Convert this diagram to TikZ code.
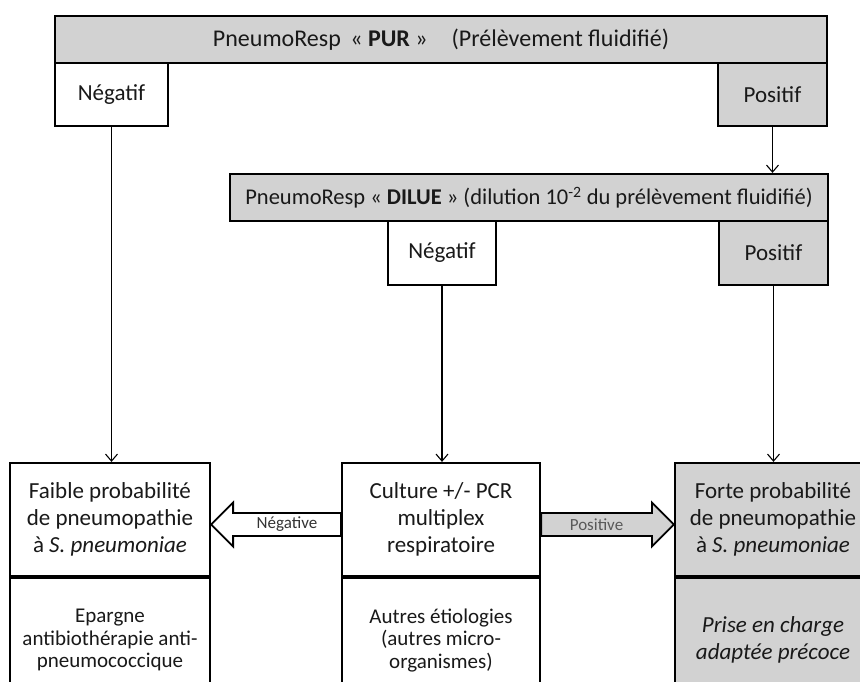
\documentclass[tikz,border=0pt]{standalone}
\usepackage{fontspec}
\setmainfont{Carlito}
\usetikzlibrary{calc, arrows.meta}
\definecolor{boxgray}{RGB}{210,210,210}
\tikzset{
    box/.style={draw, line width=2.2pt, inner sep=0pt, align=center, text=black!90},
    graybox/.style={box, fill=boxgray},
    whitebox/.style={box, fill=white},
    thinarrow/.style={-{Straight Barb[length=7pt,width=12pt]}, line width=1.1pt},
    fatarrow/.style={line width=1.8pt, line join=miter},
}

\begin{document}
\begin{tikzpicture}[x=1pt,y=-1pt]
\def\bigtxt{\fontsize{23}{27}\selectfont}
\def\toptxt{\fontsize{24}{28}\selectfont}
\def\bartxt{\fontsize{22.5}{26}\selectfont}
\def\lowtxt{\fontsize{21}{22.5}\selectfont}
\def\tagtxt{\fontsize{17}{19}\selectfont}
\def\headlen{22}

\useasboundingbox (0,0) rectangle (860,682);
\clip (0,0) rectangle (860,682);

\node[graybox, minimum width=772pt, minimum height=47pt, font=\toptxt] (pur) at (441,39.5)
  {PneumoResp \,« \textbf{PUR} »\quad (Prélèvement fluidifié)};
\node[whitebox, minimum width=113pt, minimum height=63pt, font=\bigtxt] (neg1) at (111.5,94.5) {Négatif};
\node[graybox, minimum width=109pt, minimum height=63pt, font=\bigtxt] (pos1) at (772.5,94.5) {Positif};

\node[graybox, minimum width=598pt, minimum height=47pt, font=\bartxt] (dil) at (529,197.5)
  {PneumoResp « \textbf{DILUE} » (dilution 10\textsuperscript{-2} du prélèvement fluidifié)};
\node[whitebox, minimum width=108pt, minimum height=64pt, font=\bigtxt] (neg2) at (442,253) {Négatif};
\node[graybox, minimum width=109pt, minimum height=64pt, font=\bigtxt] (pos2) at (773.5,253) {Positif};

\node[whitebox, minimum width=200pt, minimum height=113pt, font=\bigtxt] (faible) at (110,519.5)
  {Faible probabilité\\de pneumopathie\\à \textit{S. pneumoniae}};
\node[whitebox, minimum width=200pt, minimum height=124pt, font=\lowtxt, anchor=north] (epargne) at (faible.south)
  {Epargne\\antibiothérapie anti-\\pneumococcique};

\node[whitebox, minimum width=198pt, minimum height=113pt, font=\bigtxt] (culture) at (441,519.5)
  {Culture +/- PCR\\multiplex\\respiratoire};
\node[whitebox, minimum width=198pt, minimum height=124pt, font=\lowtxt, anchor=north] (etio) at (culture.south)
  {Autres étiologies\\(autres micro-\\organismes)};

\node[graybox, minimum width=196pt, minimum height=113pt, font=\bigtxt] (forte) at (773,519.5)
  {Forte probabilité\\de pneumopathie\\à \textit{S. pneumoniae}};
\node[graybox, minimum width=196pt, minimum height=124pt, font=\bigtxt\itshape, anchor=north] (prise) at (forte.south)
  {Prise en charge\\adaptée précoce};

\draw[thinarrow] (neg1.south) -- (neg1.south |- faible.north);
\draw[thinarrow] (pos1.south) -- (pos1.south |- dil.north);
\draw[thinarrow] (neg2.south) -- (neg2.south |- culture.north);
\draw[thinarrow] (pos2.south) -- (pos2.south |- forte.north);

\coordinate (negtail) at ($(culture.west)+(0,5)$);
\coordinate (negtip) at ($(faible.east)+(0,5)$);
\draw[fatarrow, fill=white] ($(negtail)+(0,-11.5)$) -- ($(negtip)+(\headlen,-11.5)$) -- ($(negtip)+(\headlen,-22)$)
  -- (negtip) -- ($(negtip)+(\headlen,22)$) -- ($(negtip)+(\headlen,11.5)$) -- ($(negtail)+(0,11.5)$) -- cycle;
\node[font=\tagtxt, text=black!80] (lblneg) at ($(negtail)!0.5!([xshift=\headlen pt]negtip)$) {Négative};

\coordinate (postail) at ($(culture.east)+(0,5)$);
\coordinate (postip) at ($(forte.west)+(0,5)$);
\draw[fatarrow, fill=boxgray] ($(postail)+(0,-11.5)$) -- ($(postip)+(-\headlen,-11.5)$) -- ($(postip)+(-\headlen,-22)$)
  -- (postip) -- ($(postip)+(-\headlen,22)$) -- ($(postip)+(-\headlen,11.5)$) -- ($(postail)+(0,11.5)$) -- cycle;
\node[font=\tagtxt, text=black!65] (lblpos) at ($(postail)!0.5!([xshift=-\headlen pt]postip)$) {Positive};
\end{tikzpicture}
\end{document}
